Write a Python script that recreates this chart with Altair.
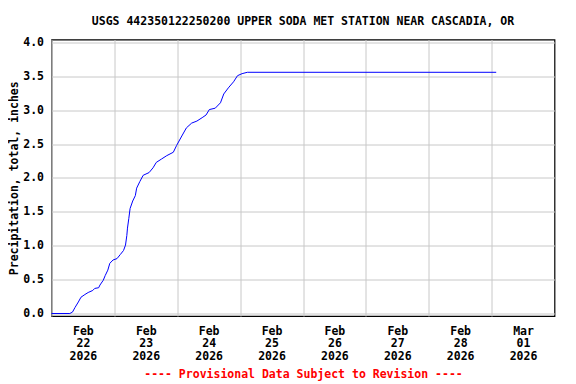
import altair as alt
import pandas as pd

# readings of cumulative precipitation (inches) off the reference
times = [
    "2026-02-22T00:00", "2026-02-22T07:00", "2026-02-22T08:00", "2026-02-22T09:00",
    "2026-02-22T10:15", "2026-02-22T11:15", "2026-02-22T12:45", "2026-02-22T14:00",
    "2026-02-22T15:45", "2026-02-22T16:30", "2026-02-22T18:00", "2026-02-22T18:30",
    "2026-02-22T19:45", "2026-02-22T20:30", "2026-02-22T21:30", "2026-02-22T22:15",
    "2026-02-22T23:30", "2026-02-23T01:00", "2026-02-23T02:15", "2026-02-23T03:30",
    "2026-02-23T04:15", "2026-02-23T04:45", "2026-02-23T05:00", "2026-02-23T05:30",
    "2026-02-23T06:00", "2026-02-23T07:00", "2026-02-23T08:00", "2026-02-23T08:30",
    "2026-02-23T09:45", "2026-02-23T11:00", "2026-02-23T13:15", "2026-02-23T14:45",
    "2026-02-23T16:00", "2026-02-23T18:00", "2026-02-23T20:00", "2026-02-23T22:30",
    "2026-02-23T23:45", "2026-02-24T01:45", "2026-02-24T03:30", "2026-02-24T05:30",
    "2026-02-24T07:30", "2026-02-24T09:30", "2026-02-24T11:00", "2026-02-24T12:15",
    "2026-02-24T14:30", "2026-02-24T16:30", "2026-02-24T17:45", "2026-02-24T19:30",
    "2026-02-24T21:30", "2026-02-24T23:00", "2026-02-25T00:45", "2026-02-25T02:45",
    "2026-03-01T01:45",
]
precip = [
    0.00, 0.00, 0.02, 0.09,
    0.17, 0.24, 0.28, 0.31,
    0.34, 0.37, 0.38, 0.42,
    0.49, 0.56, 0.64, 0.74,
    0.79, 0.81, 0.87, 0.93,
    1.01, 1.15, 1.26, 1.40,
    1.55, 1.66, 1.74, 1.85,
    1.95, 2.04, 2.08, 2.15,
    2.23, 2.28, 2.33, 2.38,
    2.48, 2.62, 2.74, 2.81,
    2.84, 2.89, 2.93, 3.01,
    3.03, 3.11, 3.24, 3.33,
    3.42, 3.51, 3.54, 3.56,
    3.56,
]
y_ticks = [0.0, 0.5, 1.0, 1.5, 2.0, 2.5, 3.0, 3.5, 4.0]

title_text = "USGS 442350122250200 UPPER SODA MET STATION NEAR CASCADIA, OR"
y_title = "Precipitation, total, inches"
footer = "---- Provisional Data Subject to Revision ----"

df = pd.DataFrame({"time": pd.to_datetime(times), "precip": precip})

FONT = "DejaVu Sans Mono"
day_ticks = [alt.DateTime(year=2026, month="feb", date=d) for d in range(22, 29)] + [
    alt.DateTime(year=2026, month="mar", date=1)
]
x_domain = [alt.DateTime(year=2026, month="feb", date=22), alt.DateTime(year=2026, month="mar", date=2)]

chart = (
    alt.Chart(df)
    .mark_line(color="#0000ff", strokeWidth=1)
    .encode(
        x=alt.X(
            "time:T",
            scale=alt.Scale(domain=x_domain),
            axis=alt.Axis(
                values=day_ticks,
                labelExpr="[timeFormat(datum.value, '%b'), timeFormat(datum.value, '%d'), timeFormat(datum.value, '%Y')]",
                labelOffset=31.4,
                labelAlign="center",
                labelBaseline="top",
                labelPadding=9,
                labelLineHeight=12.8,
                labelFlush=False,
                labelOverlap=False,
                labelBound=False,
                ticks=False,
                domain=False,
                grid=True,
                title=footer,
                titleColor="#ff0000",
                titlePadding=6,
            ),
        ),
        y=alt.Y(
            "precip:Q",
            scale=alt.Scale(domain=[-0.037, 4.044], nice=False, zero=False),
            axis=alt.Axis(
                values=y_ticks,
                format=".1f",
                ticks=False,
                domain=False,
                grid=True,
                labelPadding=8,
                title=y_title,
                titlePadding=3,
            ),
        ),
    )
    .properties(
        width=503,
        height=276.5,
        title=alt.TitleParams(
            text=title_text,
            font=FONT,
            fontSize=11.5,
            fontWeight="bold",
            color="#000000",
            anchor="middle",
            offset=9,
        ),
        autosize=alt.AutoSizeParams(type="none"),
        padding={"left": 43.5, "top": 31.5, "right": 10, "bottom": 66},
    )
    .configure_view(stroke="#000000", strokeWidth=1.2)
    .configure_axis(
        gridColor="#c8c8c8",
        gridWidth=1,
        labelFont=FONT,
        labelFontSize=11.5,
        labelFontWeight="bold",
        labelColor="#000000",
        titleFont=FONT,
        titleFontSize=11.5,
        titleFontWeight="bold",
        titleColor="#000000",
    )
)

chart.save("out.html", embed_options={"renderer": "svg", "actions": False})
